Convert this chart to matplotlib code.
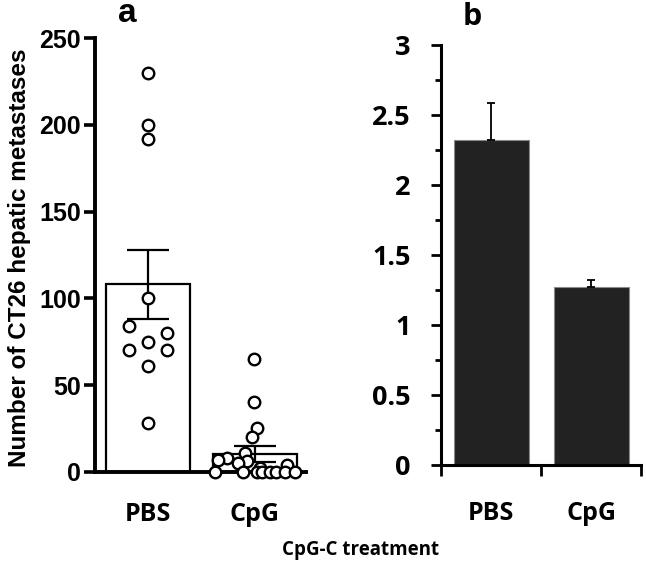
import matplotlib
matplotlib.use("Agg")
import matplotlib.pyplot as plt
from matplotlib.ticker import MultipleLocator, FixedLocator, FuncFormatter

# ---------------- data ----------------
groups = ["PBS", "CpG"]

# panel a: individual counts and bar mean / SEM
pbs_counts = [230, 200, 192, 100, 84, 80, 75, 70, 70, 61, 28]
pbs_jitter = [0, 0, 0, 0, -0.18, 0.18, 0, -0.18, 0.18, 0, 0]
cpg_counts = [65, 40, 25, 20, 11, 8, 7, 6, 5, 4, 2, 0, 0, 0, 0, 0, 0, 0, 0]
cpg_jitter = [-0.01, -0.01, 0.02, -0.03, -0.09, -0.26, -0.35, -0.07, -0.16, 0.30, 0.05,
              -0.37, -0.11, 0.02, 0.07, 0.14, 0.20, 0.28, 0.37]
a_means = [108, 10.2]
a_sem = [20, 4.6]

# panel b
b_means = [2.32, 1.27]
b_err = [0.265, 0.055]

W, H = 646, 563
fig = plt.figure(figsize=(W / 100, H / 100), dpi=100)

arial = ["Liberation Sans", "DejaVu Sans"]
calib = ["Open Sans", "DejaVu Sans"]


def frac(x0, y0, x1, y1):
    # pixel box -> figure fraction
    return [x0 / W, 1 - y1 / H, (x1 - x0) / W, (y1 - y0) / H]


# ---------------- panel a ----------------
ax = fig.add_axes(frac(95, 38.3, 306, 471.7))
xpos = [0, 1]
ax.bar(xpos, a_means, width=0.785, color="white", edgecolor="black", linewidth=1.6, zorder=1)
ax.errorbar(xpos, a_means, yerr=a_sem, fmt="none", ecolor="black", elinewidth=1.6,
            capsize=15, capthick=1.6, zorder=3)
for i, (vals, jit) in enumerate([(pbs_counts, pbs_jitter), (cpg_counts, cpg_jitter)]):
    ax.plot([xpos[i] + j for j in jit], vals, "o", mfc="white", mec="black",
            ms=8.3, mew=1.7, clip_on=False, zorder=4)

ax.set_xlim(-0.495, 1.477)
ax.set_ylim(0, 250)
ax.set_yticks([0, 50, 100, 150, 200, 250])
ax.set_xticks(xpos)
ax.set_xticklabels(groups, family=calib, fontweight="bold", fontsize=18)
for lab in ax.get_yticklabels():
    lab.set_family(arial)
    lab.set_fontweight("bold")
    lab.set_fontsize(18)
ax.tick_params(axis="y", length=8, width=2.6, pad=2)
ax.tick_params(axis="x", length=0, pad=22)
for s in ["top", "right"]:
    ax.spines[s].set_visible(False)
for s in ["left", "bottom"]:
    ax.spines[s].set_linewidth(2.8)
ax.set_facecolor("none")

fig.text(20 / W, 1 - 258 / H, "Number of CT26 hepatic metastases", family=arial,
         fontweight="bold", fontsize=17.5, rotation=90, ha="center", va="center")

fig.text(127 / W, 1 - 14 / H, "a", family=arial,
         fontweight="bold", fontsize=24, ha="center", va="center")

# ---------------- panel b ----------------
bx = fig.add_axes(frac(441, 45, 641, 465))
bx.bar(xpos, b_means, width=0.75, color="#222222", edgecolor="#8a8a8a", linewidth=0.8)
bx.errorbar(xpos, b_means, yerr=[[0, 0], b_err], fmt="none", ecolor="black",
            elinewidth=1.3, capsize=3, capthick=1.3)
bx.set_xlim(-0.5, 1.5)
bx.set_ylim(0, 3)
bx.yaxis.set_major_locator(MultipleLocator(0.5))
bx.yaxis.set_minor_locator(MultipleLocator(0.25))
bx.yaxis.set_major_formatter(FuncFormatter(lambda v, p: f"{v:g}"))
bx.set_xticks(xpos)
bx.set_xticklabels(groups, family=calib, fontweight="bold", fontsize=18)
bx.xaxis.set_minor_locator(FixedLocator([-0.5, 0.5, 1.5]))
for lab in bx.get_yticklabels():
    lab.set_family(calib)
    lab.set_fontweight("bold")
    lab.set_fontsize(19.5)
bx.tick_params(axis="y", which="major", length=7, width=2, pad=15)
bx.tick_params(axis="y", which="minor", length=4, width=2)
bx.tick_params(axis="x", which="major", length=0, pad=26)
bx.tick_params(axis="x", which="minor", length=8, width=2)
for s in ["top", "right"]:
    bx.spines[s].set_visible(False)
for s in ["left", "bottom"]:
    bx.spines[s].set_linewidth(2.2)

fig.text(472 / W, 1 - 17 / H, "b", family=calib, fontweight="bold", fontsize=22,
         ha="center", va="center")

fig.text(361 / W, 1 - 550 / H, "CpG-C treatment", family=calib, fontweight="bold",
         fontsize=13.5, ha="center", va="center")

fig.savefig("out.png", dpi=100, facecolor="white")
